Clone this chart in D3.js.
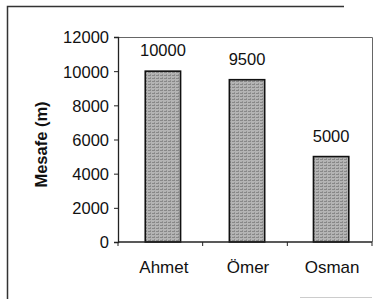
<!DOCTYPE html>
<html>
<head>
<meta charset="utf-8">
<script src="https://cdn.jsdelivr.net/npm/d3@7"></script>
<style>
  body { margin: 0; background: #fff; }
  svg { display: block; font-family: Arial, "Liberation Sans", sans-serif; }
</style>
</head>
<body>
<div id="chart"></div>
<script>
// chart values
var names = ["Ahmet", "Ömer", "Osman"];
var distances = [10000, 9500, 5000];
var yTicks = [0, 2000, 4000, 6000, 8000, 10000, 12000];
var yTitle = "Mesafe (m)";

var W = 382, H = 299;
var plot = { left: 118, right: 372, top: 37, bottom: 242 };

var svg = d3.select("#chart").append("svg")
    .attr("width", W)
    .attr("height", H);

// speckled grey fill like the printed bars
var pat = svg.append("defs").append("pattern")
    .attr("id", "speckle")
    .attr("width", 4)
    .attr("height", 3)
    .attr("patternUnits", "userSpaceOnUse");
pat.append("rect").attr("width", 4).attr("height", 3).attr("fill", "#b4b4b4");
pat.append("rect").attr("x", 0).attr("y", 0).attr("width", 3).attr("height", 1).attr("fill", "#888");
pat.append("rect").attr("x", 2).attr("y", 2).attr("width", 1).attr("height", 1).attr("fill", "#949494");

// outer frame (only left + top survive in the scan)
svg.append("path")
    .attr("d", "M7.5,299 V6.5 H344")
    .attr("fill", "none")
    .attr("stroke", "#333")
    .attr("stroke-width", 1.5);
svg.append("line")
    .attr("x1", 300).attr("x2", 372).attr("y1", 297.5).attr("y2", 297.5)
    .attr("stroke", "#ccc").attr("stroke-width", 1);

var x = d3.scaleBand()
    .domain(names)
    .range([plot.left, plot.right])
    .paddingInner(0.58)
    .paddingOuter(0.3)
    .align(0.54);

var y = d3.scaleLinear()
    .domain([0, 12000])
    .range([plot.bottom, plot.top]);

// plot area top/right border
svg.append("path")
    .attr("d", "M" + plot.left + "," + (plot.top + 0.5) + " H" + (plot.right + 0.5) + " V" + plot.bottom)
    .attr("fill", "none")
    .attr("stroke", "#666")
    .attr("stroke-width", 1);

// y axis
var yAxis = svg.append("g")
    .attr("transform", "translate(" + plot.left + ",0)")
    .call(d3.axisLeft(y).tickValues(yTicks).tickSize(4).tickPadding(5).tickFormat(d3.format("d")));
yAxis.select(".domain").attr("stroke", "#222").attr("stroke-width", 1.3);
yAxis.selectAll(".tick line").attr("stroke", "#222");
yAxis.selectAll("text")
    .attr("font-size", "16.5px")
    .attr("font-family", "Arial, 'Liberation Sans', sans-serif")
    .attr("fill", "#111")
    .attr("dy", "0.36em");

svg.append("text")
    .attr("transform", "translate(47," + ((plot.top + plot.bottom) / 2 + 5) + ") rotate(-90)")
    .attr("text-anchor", "middle")
    .attr("font-size", "16.5px")
    .attr("font-weight", "bold")
    .attr("fill", "#111")
    .text(yTitle);

// bars
svg.selectAll("rect.bar")
    .data(distances)
    .enter()
    .append("rect")
    .attr("class", "bar")
    .attr("x", function (d, i) { return x(names[i]); })
    .attr("y", function (d) { return y(d); })
    .attr("width", x.bandwidth())
    .attr("height", function (d) { return plot.bottom - y(d); })
    .attr("fill", "url(#speckle)")
    .attr("stroke", "#111")
    .attr("stroke-width", 1.6);

// value labels above the bars
svg.selectAll("text.val")
    .data(distances)
    .enter()
    .append("text")
    .attr("class", "val")
    .attr("x", function (d, i) { return x(names[i]) + x.bandwidth() / 2; })
    .attr("y", function (d) { return y(d) - 15; })
    .attr("text-anchor", "middle")
    .attr("font-size", "16.5px")
    .attr("fill", "#111")
    .text(function (d) { return d; });

// x axis: baseline plus ticks between categories
var xAxis = svg.append("g")
    .attr("transform", "translate(0," + plot.bottom + ")");
xAxis.append("line")
    .attr("x1", plot.left).attr("x2", plot.right)
    .attr("stroke", "#222").attr("stroke-width", 1.3);
xAxis.selectAll("line.tk")
    .data(d3.range(0, names.length + 1))
    .enter()
    .append("line")
    .attr("class", "tk")
    .attr("x1", function (i) { return plot.left + i * (plot.right - plot.left) / names.length; })
    .attr("x2", function (i) { return plot.left + i * (plot.right - plot.left) / names.length; })
    .attr("y1", 0).attr("y2", 4)
    .attr("stroke", "#222");

svg.selectAll("text.cat")
    .data(names)
    .enter()
    .append("text")
    .attr("class", "cat")
    .attr("x", function (d) { return x(d) + x.bandwidth() / 2 + 1; })
    .attr("y", 273)
    .attr("text-anchor", "middle")
    .attr("font-size", "17px")
    .attr("fill", "#111")
    .text(function (d) { return d; });
</script>
</body>
</html>
